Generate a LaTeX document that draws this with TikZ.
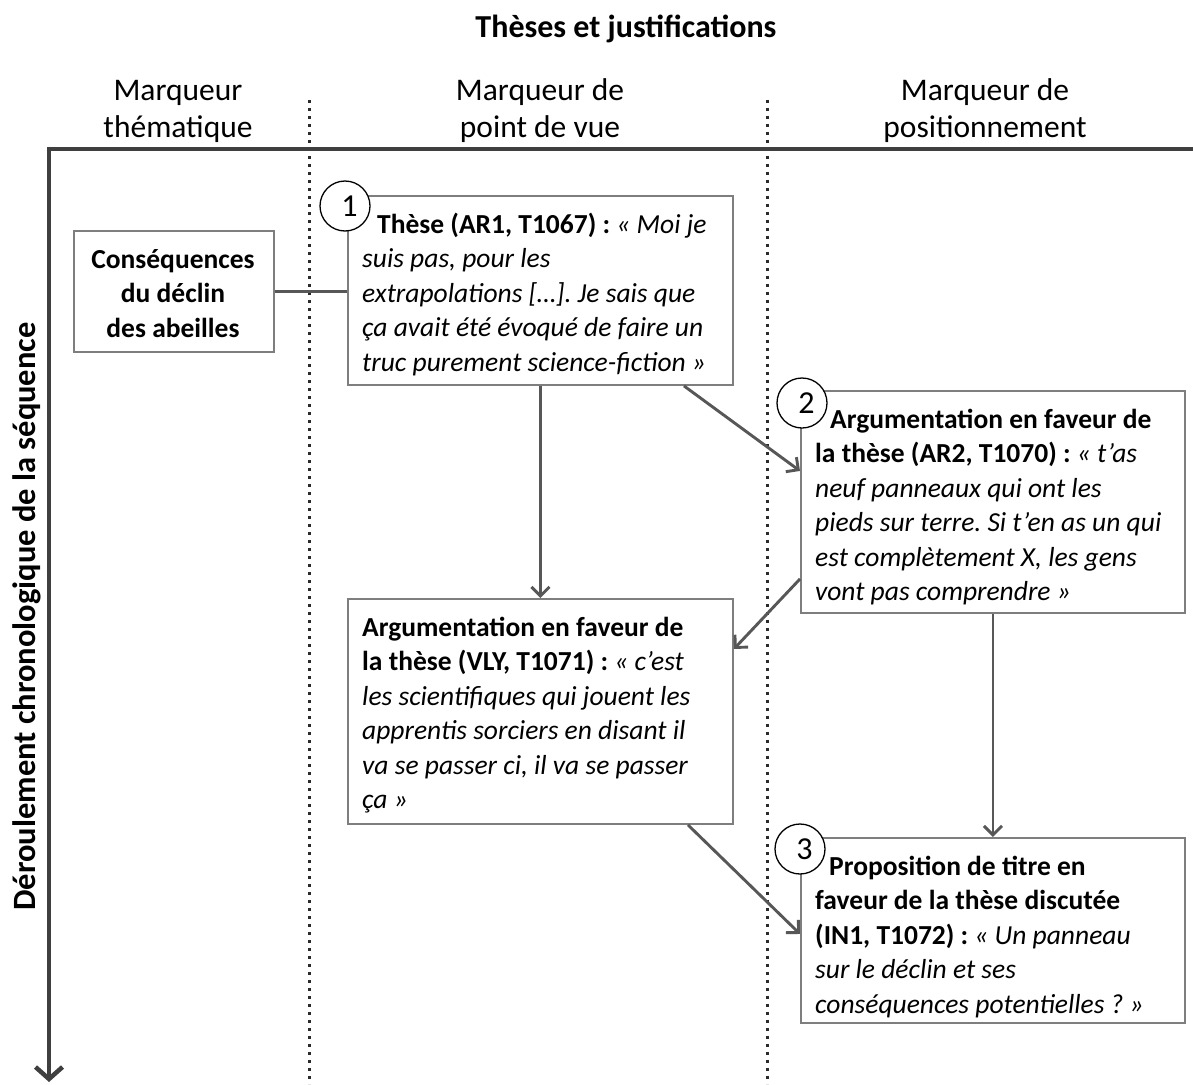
\documentclass[tikz,border=0pt]{standalone}
\usepackage{fontspec}
\setmainfont{Carlito}
\usetikzlibrary{arrows.meta,shadows,calc}
\definecolor{axisc}{HTML}{3F3F3F}
\definecolor{conc}{HTML}{575757}
\definecolor{boxc}{HTML}{7E7E7E}
\definecolor{dotc}{HTML}{2A2A2A}
\frenchspacing
\begin{document}
\frenchspacing
\begin{tikzpicture}[x=1pt,y=-1pt,
  boxshape/.style={draw=boxc,line width=1.9pt,fill=white,inner sep=0pt,anchor=north west,
    drop shadow={shadow xshift=1.5pt,shadow yshift=-1.5pt,fill=black,opacity=0.22}},
  txt/.style={anchor=north west,inner sep=0pt,align=left,font=\fontsize{27.5}{34.5}\selectfont\frenchspacing},
  hdr/.style={anchor=north,inner sep=0pt,align=center,font=\fontsize{31.5}{37}\selectfont},
  num/.style={circle,draw=black,line width=1.3pt,fill=white,minimum size=50pt,inner sep=0pt,
    font=\fontsize{32}{34}\selectfont},
  conn/.style={draw=conc,line width=2.9pt,-{Straight Barb[length=9pt,width=18pt]}},
  link/.style={draw=conc,line width=2.9pt},
  axisline/.style={draw=axisc,line width=4.5pt,line join=miter},
  dotline/.style={draw=dotc,line width=3pt,dash pattern=on 3pt off 5pt}]
\useasboundingbox (0,0) rectangle (1193,1084);
\fill[white] (0,0) rectangle (1193,1084);

% title and headers
\node[anchor=base,inner sep=0pt,font=\bfseries\fontsize{32}{36}\selectfont] (title) at (626,37) {Thèses et justifications};
\node[hdr] (h1) at (178,73) {\rule{0pt}{27pt}Marqueur\\thématique};
\node[hdr] (h2) at (540,73) {\rule{0pt}{27pt}Marqueur de\\point de vue};
\node[hdr] (h3) at (985,73) {\rule{0pt}{27pt}Marqueur de\\positionnement};

% dotted separators
\coordinate (d1t) at (309,100);
\coordinate (d1b) at (309,1084);
\coordinate (d2t) at (767,100);
\coordinate (d2b) at (767,1084);
\draw[dotline] (d1t) -- (d1b);
\draw[dotline] (d2t) -- (d2b);

% axes
\coordinate (xe) at (1193,149);
\coordinate (ax0) at (49,149);
\coordinate (ye) at (49,1082);
\draw[axisline] (xe) -- (ax0);
\draw[axisline,-{Straight Barb[length=12pt,width=27pt]}] ([yshift=2.25pt]ax0) -- (ye);
\node[rotate=90,anchor=base,inner sep=0pt,font=\bfseries\fontsize{32.5}{36}\selectfont] (vl) at (35,616.5) {Déroulement chronologique de la séquence};

% boxes
\node[boxshape,minimum width=200pt,minimum height=121pt] (b0) at (73,230) {};
\node[boxshape,minimum width=385pt,minimum height=189pt] (b1) at (347,195) {};
\node[boxshape,minimum width=384pt,minimum height=222pt] (b2) at (800,390) {};
\node[boxshape,minimum width=385pt,minimum height=225pt] (v) at (347,598) {};
\node[boxshape,minimum width=384pt,minimum height=185pt] (b3) at (800,837) {};

% texts
\node[anchor=north,inner sep=0pt,align=center,font=\bfseries\fontsize{27.5}{34.5}\selectfont] (t0) at (173,244)
  {\rule{0pt}{24pt}Conséquences\\du déclin\\des abeilles};
\node[txt] (t1) at (362,209) {\rule{0pt}{24pt}\hspace*{15pt}\textbf{Thèse (AR1, T1067) :} \textit{« Moi je}\\
  \textit{suis pas, pour les}\\
  \textit{extrapolations […]. Je sais que}\\
  \textit{ça avait été évoqué de faire un}\\
  \textit{truc purement science-fiction »}};
\node[txt] (t2) at (815,404) {\rule{0pt}{24pt}\hspace*{15pt}\textbf{Argumentation en faveur de}\\
  \textbf{la thèse (AR2, T1070) :} \textit{« t’as}\\
  \textit{neuf panneaux qui ont les}\\
  \textit{pieds sur terre. Si t’en as un qui}\\
  \textit{est complètement X, les gens}\\
  \textit{vont pas comprendre »}};
\node[txt] (tv) at (362,612) {\rule{0pt}{24pt}\textbf{Argumentation en faveur de}\\
  \textbf{la thèse (VLY, T1071) :} \textit{« c’est}\\
  \textit{les scientifiques qui jouent les}\\
  \textit{apprentis sorciers en disant il}\\
  \textit{va se passer ci, il va se passer}\\
  \textit{ça »}};
\node[txt] (t3) at (815,851) {\rule{0pt}{24pt}\hspace*{14pt}\textbf{Proposition de titre en}\\
  \textbf{faveur de la thèse discutée}\\
  \textbf{(IN1, T1072) :} \textit{« Un panneau}\\
  \textit{sur le déclin et ses}\\
  \textit{conséquences potentielles ? »}};

% numbered circles
\node[num] (n1) at (345,206) {\hspace*{9pt}\raisebox{-4pt}{1}};
\node[num] (n2) at (802,403) {\hspace*{9pt}\raisebox{-4pt}{2}};
\node[num] (n3) at (800,849) {\hspace*{9pt}\raisebox{-4pt}{3}};

% connectors
\draw[link] (b0.east) -- (b0.east -| b1.west);
\draw[conn] (b1.south) -- (v.north);
\draw[conn] ([xshift=143.5pt]b1.south) -- ([yshift=31pt]b2.west);
\draw[conn] ([yshift=-77pt]b2.west) -- ([yshift=62.5pt]v.east);
\draw[conn] (b2.south) -- (b3.north);
\draw[conn] ([xshift=147.5pt]v.south) -- ([yshift=-3.5pt]b3.west);
\end{tikzpicture}
\end{document}
